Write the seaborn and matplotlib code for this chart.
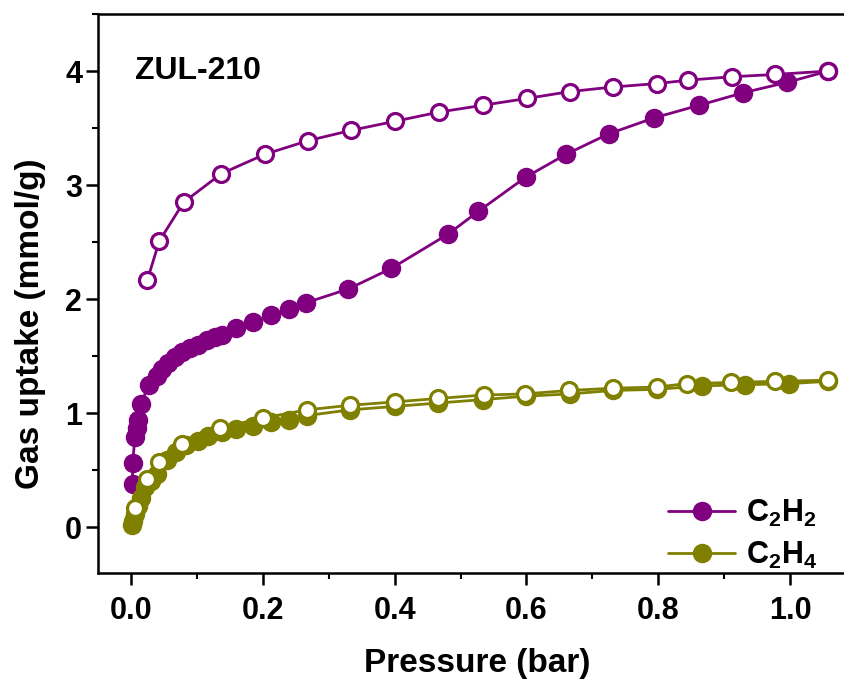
import numpy as np
import pandas as pd
import seaborn as sns
import matplotlib.pyplot as plt
from matplotlib.ticker import MultipleLocator
from matplotlib.lines import Line2D

#------------- data
c2h2_ads_p = [0.0025, 0.0025, 0.006, 0.009, 0.011, 0.015, 0.027, 0.039, 0.047, 0.056, 0.067, 0.078,
              0.090, 0.102, 0.115, 0.127, 0.138, 0.160, 0.185, 0.213, 0.240, 0.266, 0.330, 0.395,
              0.481, 0.527, 0.599, 0.660, 0.725, 0.794, 0.862, 0.929, 0.995, 1.058]
c2h2_ads_q = [0.38, 0.56, 0.79, 0.87, 0.94, 1.08, 1.25, 1.33, 1.39, 1.44, 1.49, 1.54,
              1.57, 1.60, 1.64, 1.67, 1.69, 1.75, 1.80, 1.86, 1.91, 1.97, 2.09, 2.27,
              2.57, 2.77, 3.07, 3.27, 3.45, 3.59, 3.70, 3.81, 3.90, 4.00]
c2h2_des_p = [1.058, 0.977, 0.912, 0.845, 0.798, 0.731, 0.666, 0.601, 0.534, 0.467, 0.401,
              0.334, 0.269, 0.203, 0.137, 0.080, 0.043, 0.025]
c2h2_des_q = [4.00, 3.97, 3.95, 3.92, 3.89, 3.86, 3.82, 3.76, 3.70, 3.64, 3.56,
              3.48, 3.39, 3.27, 3.10, 2.85, 2.51, 2.17]
c2h4_ads_p = [0.001, 0.003, 0.006, 0.010, 0.015, 0.021, 0.030, 0.039, 0.054, 0.069, 0.084,
              0.102, 0.117, 0.138, 0.160, 0.185, 0.213, 0.240, 0.267, 0.332, 0.400, 0.466,
              0.534, 0.600, 0.666, 0.732, 0.798, 0.866, 0.932, 0.998, 1.058]
c2h4_ads_q = [0.02, 0.06, 0.12, 0.19, 0.26, 0.35, 0.41, 0.47, 0.59, 0.66, 0.72,
              0.76, 0.80, 0.84, 0.86, 0.89, 0.92, 0.94, 0.98, 1.03, 1.06, 1.09,
              1.12, 1.15, 1.17, 1.20, 1.21, 1.24, 1.25, 1.26, 1.28]
c2h4_des_p = [1.058, 0.977, 0.911, 0.843, 0.798, 0.732, 0.664, 0.598, 0.535, 0.466, 0.401,
              0.332, 0.267, 0.201, 0.135, 0.078, 0.042, 0.025, 0.006]
c2h4_des_q = [1.29, 1.28, 1.27, 1.26, 1.23, 1.22, 1.20, 1.17, 1.16, 1.13, 1.10,
              1.07, 1.03, 0.96, 0.87, 0.73, 0.57, 0.42, 0.17]

purple = '#800080'
olive = '#808000'

#------------- style
sns.set_style('ticks')
plt.rcParams['font.family'] = ['Liberation Sans', 'DejaVu Sans']
plt.rcParams['font.weight'] = 'bold'
for k in ['text.color', 'axes.labelcolor', 'xtick.color', 'ytick.color', 'axes.edgecolor']:
    plt.rcParams[k] = 'black'
plt.rcParams['mathtext.fontset'] = 'custom'
plt.rcParams['mathtext.rm'] = 'Liberation Sans:bold'
plt.rcParams['mathtext.bf'] = 'Liberation Sans:bold'
plt.rcParams['mathtext.default'] = 'rm'

fig = plt.figure(figsize=(8.45, 6.86), dpi=100)
ax = fig.add_axes([98 / 845, 113 / 686, 758 / 845, 559 / 686])

#------------- curves
series = [
    (c2h2_ads_p, c2h2_ads_q, purple, purple),
    (c2h2_des_p, c2h2_des_q, purple, 'white'),
    (c2h4_ads_p, c2h4_ads_q, olive, olive),
    (c2h4_des_p, c2h4_des_q, olive, 'white'),
]
for p, q, col, face in series:
    df = pd.DataFrame({'p': p, 'q': q})
    sns.lineplot(data=df, x='p', y='q', sort=False, estimator=None, ax=ax,
                 color=col, lw=2.0, marker='o', markersize=13 if face != 'white' else 11.5,
                 markerfacecolor=face, markeredgecolor=col,
                 markeredgewidth=2.3 if face == 'white' else 1)

#------------- axes
ax.set_xlim(-0.05, 1.1)
ax.set_ylim(-0.4, 4.5)
ax.xaxis.set_minor_locator(MultipleLocator(0.1))
ax.yaxis.set_minor_locator(MultipleLocator(0.5))
ax.set_xticks([0.0, 0.2, 0.4, 0.6, 0.8, 1.0])
ax.set_xticklabels(['0.0', '0.2', '0.4', '0.6', '0.8', '1.0'])
ax.set_yticks([0, 1, 2, 3, 4])
ax.set_yticklabels(['0', '1', '2', '3', '4'])
for lab in ax.get_xticklabels() + ax.get_yticklabels():
    lab.set_fontweight('bold')
    lab.set_fontsize(22)
ax.tick_params(which='major', direction='out', length=8.5, width=1.8)
ax.tick_params(axis='x', which='major', pad=8)
ax.tick_params(axis='y', which='major', pad=3)
ax.tick_params(which='minor', direction='out', length=4.5, width=1.5)
for s in ax.spines.values():
    s.set_linewidth(1.8)
    s.set_visible(True)

ax.set_xlabel('Pressure (bar)', fontsize=24, fontweight='bold', labelpad=16)
ax.set_ylabel('Gas uptake (mmol/g)', fontsize=24, fontweight='bold')
ax.yaxis.set_label_coords(-0.068, 0.445)

ax.text(0.006, 4.0, 'ZUL-210', fontsize=23, fontweight='bold', va='center', ha='left')

handles = [
    Line2D([], [], color=purple, lw=2.0, marker='o', markersize=13, markerfacecolor=purple),
    Line2D([], [], color=olive, lw=2.0, marker='o', markersize=13, markerfacecolor=olive),
]
leg = ax.legend(handles, ['C$_{2}$H$_{2}$', 'C$_{2}$H$_{4}$'], loc='lower right',
                bbox_to_anchor=(0.985, -0.045), frameon=False, fontsize=22,
                handlelength=2.2, handletextpad=0.35, labelspacing=0.35)

fig.savefig('out.png', dpi=100)
